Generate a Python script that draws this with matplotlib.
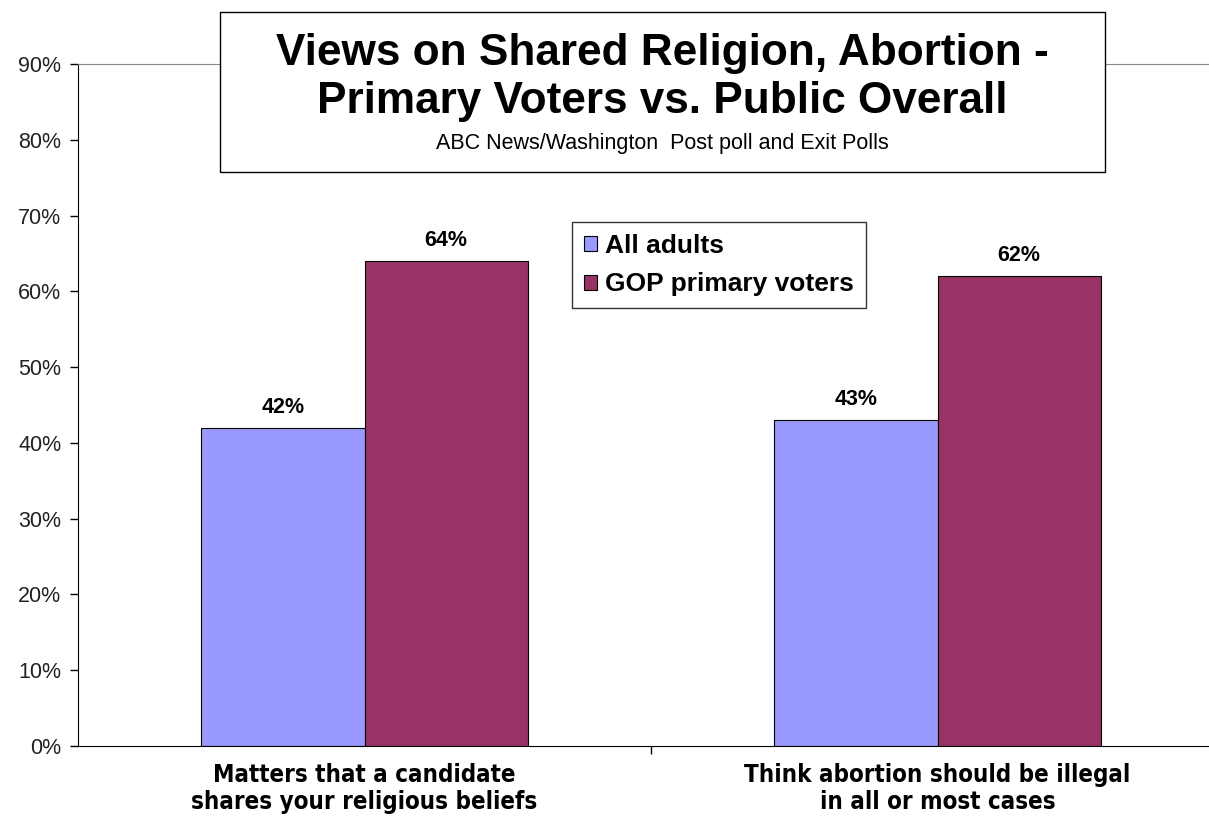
import matplotlib.pyplot as plt
import matplotlib
import matplotlib.font_manager as fm
from matplotlib.patches import Rectangle
from numpy import arange

matplotlib.rcParams['font.family'] = ['Liberation Sans', 'DejaVu Sans']

# 데이터
categories = ['Matters that a candidate\nshares your religious beliefs',
              'Think abortion should be illegal\nin all or most cases']
series_names = ['All adults', 'GOP primary voters']
all_adults = [42, 43]
gop_voters = [64, 62]
yticks = arange(0, 100, 10)

blue = '#9999FF'
red = '#993366'

# 좁은 글꼴이 있으면 사용
try:
    fm.findfont(fm.FontProperties(family='Liberation Sans Narrow', weight='bold'), fallback_to_default=False)
    cat_family, cat_size = ['Liberation Sans Narrow'], 21
except Exception:
    cat_family, cat_size = ['DejaVu Sans'], 17.3

fig = plt.figure(figsize=(12.09, 8.17), dpi=100)
# 오른쪽은 그림 밖으로 잘려 나감
ax = fig.add_axes([78/1209, 1 - 746/817, 1146/1209, 682/817])

x = arange(len(categories))
w = 0.285
b1 = ax.bar(x - w/2, all_adults, w, color=blue, edgecolor='black', linewidth=0.8, label=series_names[0])
b2 = ax.bar(x + w/2, gop_voters, w, color=red, edgecolor='black', linewidth=0.8, label=series_names[1])

for bars, vals in ((b1, all_adults), (b2, gop_voters)):
    for r, v in zip(bars, vals):
        ax.text(r.get_x() + r.get_width()/2, v + 1.3, '%d%%' % v, ha='center', va='bottom',
                fontsize=15.5, fontweight='bold')

ax.set_xlim(-0.5, 1.5)
ax.set_ylim(0, 90)
ax.set_yticks(yticks)
ax.set_yticklabels(['%d%%' % t for t in yticks], fontsize=15.5, color='#222222')
ax.tick_params(axis='y', direction='out', length=6, width=1, pad=6)
ax.set_xticks([0.5])
ax.set_xticklabels([''])
ax.tick_params(axis='x', direction='out', length=6, width=1)

for i, c in enumerate(categories):
    ax.text(i, -2.3, c, ha='center', va='top', fontsize=cat_size, fontweight='bold',
            family=cat_family, fontstretch='condensed', linespacing=1.15,
            transform=ax.transData, clip_on=False)

ax.spines['right'].set_visible(False)
ax.spines['top'].set_color('#888888')
ax.spines['left'].set_color('black')
ax.spines['bottom'].set_color('black')

# 제목 상자
fig.patches.append(Rectangle((220/1209, 1 - 172/817), 885/1209, 160/817, transform=fig.transFigure,
                             facecolor='white', edgecolor='black', linewidth=1, zorder=5))
fig.text(662/1209, 1 - 54/817, 'Views on Shared Religion, Abortion -', ha='center', va='center',
         fontsize=31.8, fontweight='bold', zorder=6)
fig.text(662/1209, 1 - 101/817, 'Primary Voters vs. Public Overall', ha='center', va='center',
         fontsize=31.8, fontweight='bold', zorder=6)
fig.text(662/1209, 1 - 144/817, 'ABC News/Washington  Post poll and Exit Polls', ha='center', va='center',
         fontsize=15.5, zorder=6)

leg = ax.legend(loc='upper left', bbox_to_anchor=(572/1209, 1 - 222/817), bbox_transform=fig.transFigure,
                prop={'weight': 'bold', 'size': 19}, frameon=True, fancybox=False, edgecolor='black',
                handlelength=0.5, handleheight=0.5, handletextpad=0.3, borderpad=0.45, labelspacing=0.55,
                borderaxespad=0)
leg.get_frame().set_linewidth(1)

fig.savefig('out.png', dpi=100)
